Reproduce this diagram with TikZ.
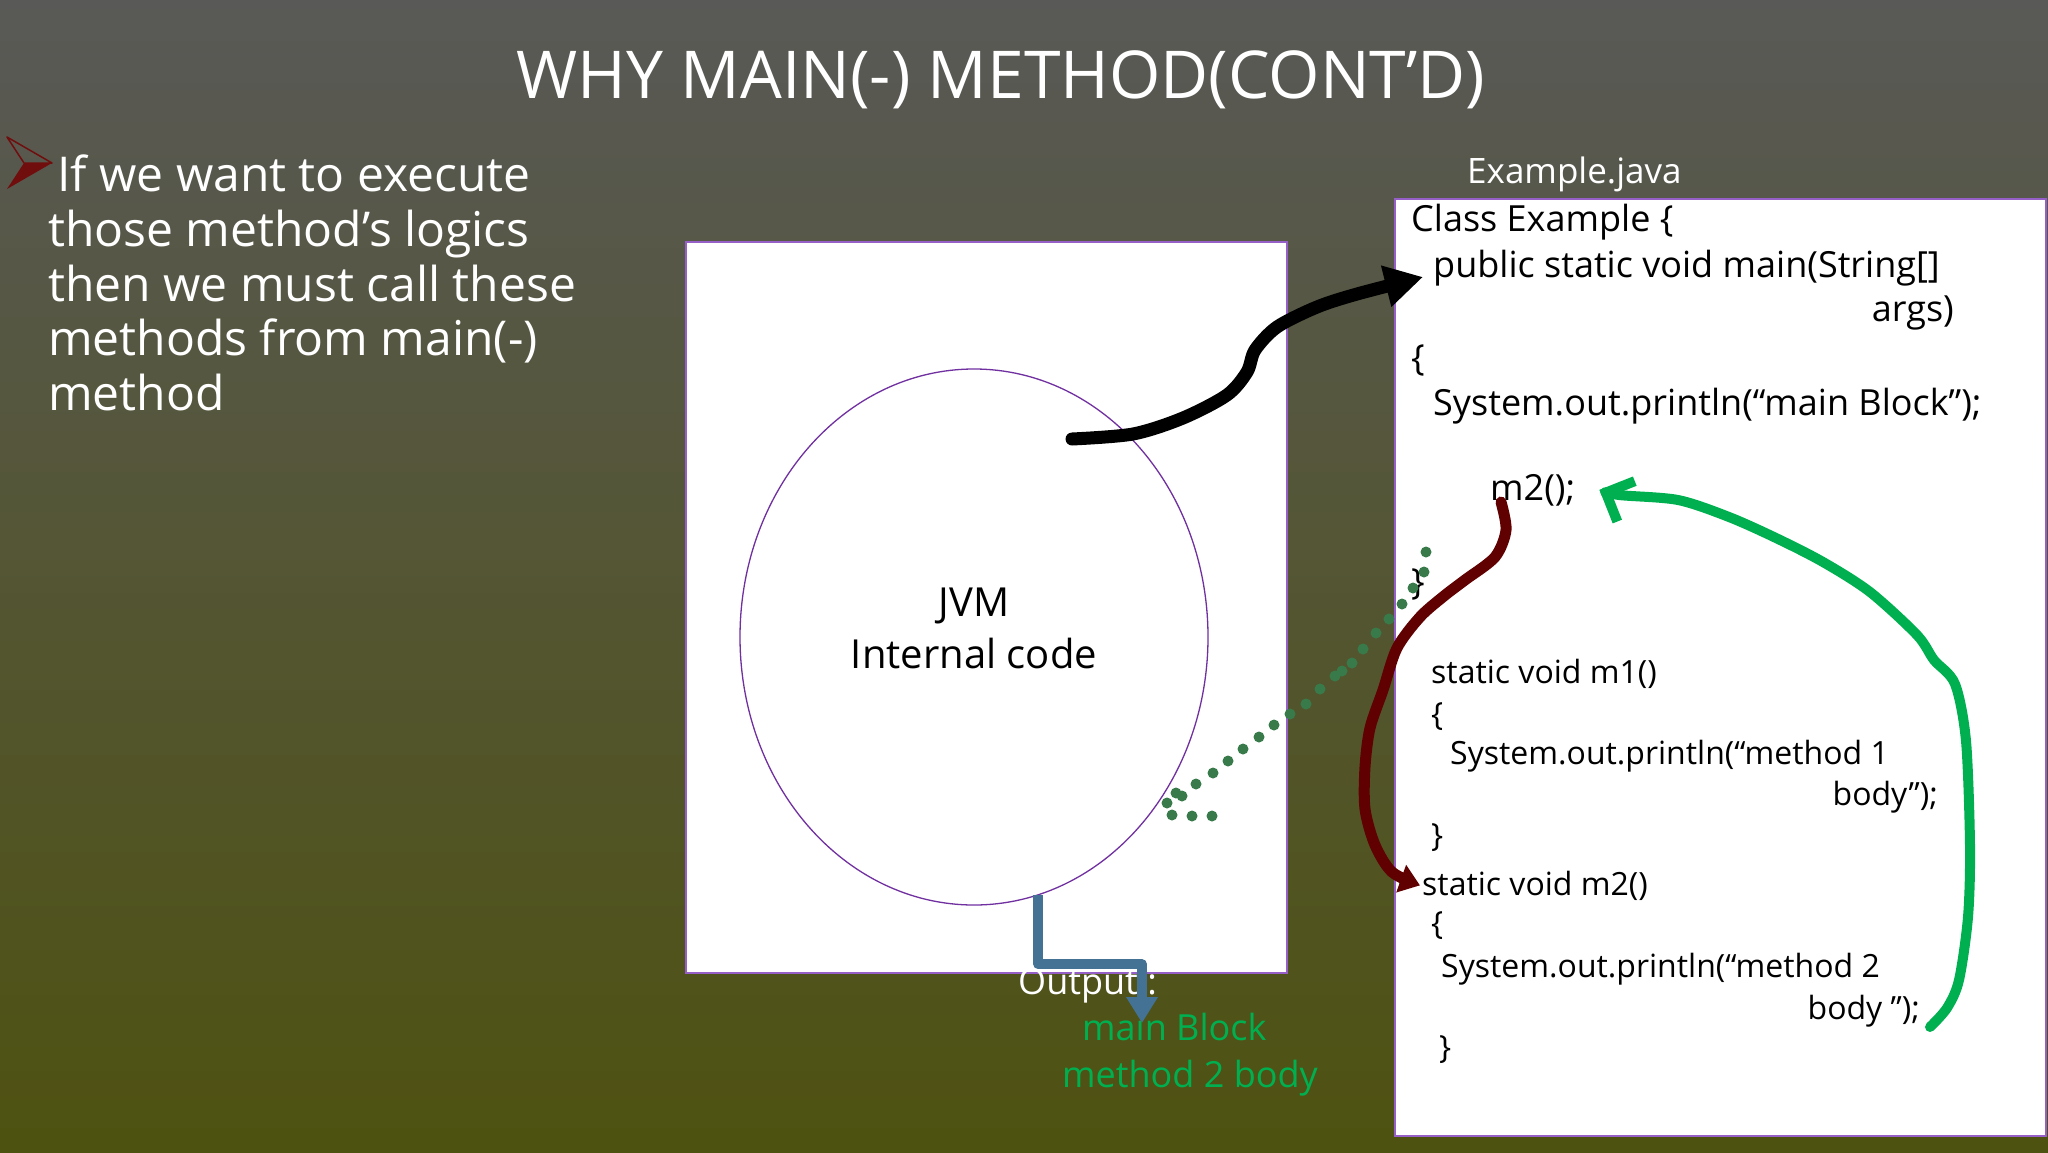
\documentclass[tikz,border=0pt]{standalone}
\usepackage{fontspec}
\setmainfont{Open Sans}
\usetikzlibrary{shapes.geometric,arrows.meta}

\definecolor{bgtop}{RGB}{89,89,87}
\definecolor{bgbottom}{RGB}{78,82,16}
\definecolor{boxpurple}{RGB}{150,95,200}
\definecolor{ellpurple}{RGB}{112,48,160}
\definecolor{bulletred}{RGB}{112,14,14}
\definecolor{redpen}{RGB}{96,0,0}
\definecolor{greenpen}{RGB}{0,176,80}
\definecolor{dotgreen}{RGB}{56,122,74}
\definecolor{bluepen}{RGB}{68,114,148}

\newcommand{\titlesize}{\fontsize{66}{72}\selectfont}
\newcommand{\bodysize}{\fontsize{48}{55}\selectfont}
\newcommand{\jvmsize}{\fontsize{40}{52}\selectfont}
\newcommand{\codesize}{\fontsize{36}{44}\selectfont}
\newcommand{\smallcode}{\fontsize{32}{40}\selectfont}

\begin{document}
\begin{tikzpicture}[x=1pt,y=-1pt,
    bodyline/.style={anchor=base west, inner sep=0pt, text=white, font=\bodysize},
    codeline/.style={anchor=base west, inner sep=0pt, text=black, font=\codesize},
    lowcode/.style={codeline, font=\smallcode},
    outline/.style={anchor=base west, inner sep=0pt, font=\codesize},
    pen/.style={line width=#1, line cap=round, line join=round}]

    % Slide background
    \useasboundingbox (0,0) rectangle (2048,1152);
    \shade[top color=bgtop, bottom color=bgbottom] (0,0) rectangle (2048,1152);

    % Title
    \node[anchor=base, inner sep=0pt, text=white, font=\titlesize] (title) at (1001,98) {WHY MAIN(-) METHOD(CONT’D)};

    % Bullet and its text
    \draw[bulletred, line width=1.5pt, line join=round] (7,137) -- (52,163) -- (24,163) -- cycle;
    \fill[bulletred] (24,163) -- (52,163) -- (7,189) -- cycle;
    \node[bodyline] (lineA) at (57,191) {If we want to execute};
    \node[bodyline] (lineB) at (48,246) {those method’s logics};
    \node[bodyline] (lineC) at (48,301) {then we must call these};
    \node[bodyline] (lineD) at (48,355) {methods from main(-)};
    \node[bodyline] (lineE) at (48,410) {method};

    % JVM box
    \draw[boxpurple, line width=1.5pt, fill=white] (686,242) rectangle (1287,973);
    \node[draw=ellpurple, line width=1.3pt, ellipse, minimum width=468pt, minimum height=536pt, inner sep=0pt] (jvm) at (974,637) {};
    \node[align=center, font=\jvmsize] (jvmtext) at (974,628) {JVM\\Internal code};

    % Source file
    \node[anchor=base west, inner sep=0pt, text=white, font=\fontsize{35}{40}\selectfont] (filename) at (1467,183) {Example.java};
    \draw[boxpurple, line width=1.5pt, fill=white] (1395,199) rectangle (2046,1136);

    \node[codeline] (classline) at (1411,231) {Class Example \{};
    \node[codeline] (pubmain) at (1433,277) {public static void main(String[]};
    \node[codeline, anchor=base east] (argsline) at (1954,321) {args)};
    \node[codeline] (mainopen) at (1411,370) {\{};
    \node[codeline] (mainprint) at (1433,415) {System.out.println(“main Block”);};
    \node[codeline] (mtwocall) at (1490,500) {m2();};
    \node[codeline] (mainclose) at (1411,594) {\}};

    \node[lowcode] (monedef) at (1431,683) {static void m1()};
    \node[lowcode] (moneopen) at (1431,725) {\{};
    \node[lowcode] (oneprint) at (1450,764) {System.out.println(“method 1};
    \node[lowcode, anchor=base east] (bodyone) at (1938,805) {body”);};
    \node[lowcode] (moneclose) at (1431,846) {\}};

    \node[lowcode] (mtwodef) at (1422,895) {static void m2()};
    \node[lowcode] (mtwoopen) at (1431,934) {\{};
    \node[lowcode] (twoprint) at (1441,977) {System.out.println(“method 2};
    \node[lowcode, anchor=base east] (bodytwo) at (1920,1019) {body ”);};
    \node[lowcode] (mtwoclose) at (1439,1058) {\}};

    % Output
    \node[outline, text=white] (outlabel) at (1018,994) {Output :};
    \node[outline, text=greenpen] (outmain) at (1082,1040) {main Block};
    \node[outline, text=greenpen] (outbody) at (1062,1087) {method 2 body};

    % Dotted stroke
    \foreach \x/\y in {1426/552, 1424/572, 1413/588, 1402/604, 1389/619, 1376/633, 1363/649,
        1352/663, 1342/671, 1335/676, 1320/689, 1306/704, 1290/714, 1274/725, 1259/737,
        1243/749, 1228/761, 1213/773, 1196/784, 1182/796, 1176/793, 1167/803,
        1172/815, 1192/816, 1212/816}
        \fill[dotgreen] (\x,\y) circle (5.5pt);

    % Call of m2()
    \coordinate (callstart) at ([xshift=11pt,yshift=-2pt]mtwocall.base west);
    \draw[redpen, pen=11pt, -{Triangle[length=20pt,width=28pt]}] plot[smooth] coordinates {(callstart) (1506,530) (1495,557) (1465,580) (1444,596)
        (1420,617) (1397,648) (1383,690) (1370,728) (1365,767) (1365,809) (1375,845) (1392,872) ([xshift=-2pt]mtwodef.west)};

    % Return to m2()
    \coordinate (backstart) at ([xshift=10pt,yshift=-8pt]bodytwo.base east);
    \draw[greenpen, pen=10pt, -{Straight Barb[length=22pt,width=44pt,line width=10pt]}] plot[smooth] coordinates {(backstart) (1947,1008) (1959,980)
        (1968,917) (1970,846) (1966,741) (1955,684) (1934,660) (1917,635) (1870,592) (1823,562) (1776,538)
        (1729,517) (1678,500) (1619,495) ([xshift=24pt]mtwocall.east)};

    % JVM calls main
    \coordinate (jvmcall) at (1072,439);
    \draw[black, pen=13pt, -{Triangle[length=38pt,width=40pt]}] plot[smooth] coordinates {(jvmcall) (1133,434) (1183,418) (1227,395)
        (1247,372) (1255,350) (1277,327) (1317,307) (1357,294) ([xshift=-10pt]pubmain.base west)};

    % Output arrow
    \coordinate (outtip) at (1142,1023);
    \draw[bluepen, line width=10pt, line join=round, -{Triangle[length=26pt,width=30pt]}] (jvm.-76) -- ++(0,69) -| (outtip);

\end{tikzpicture}
\end{document}
